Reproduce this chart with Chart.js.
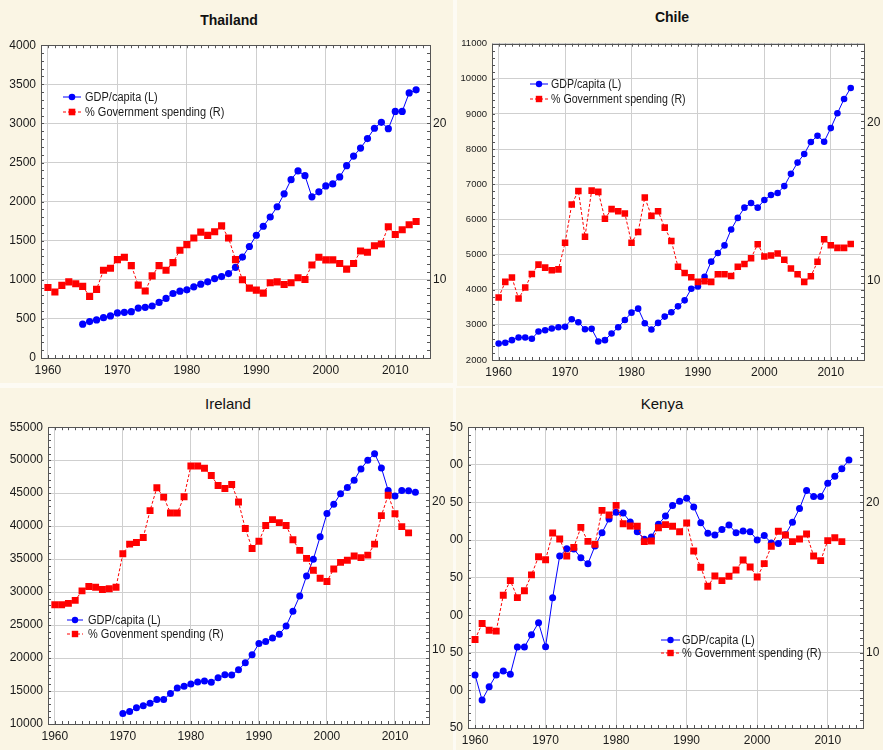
<!DOCTYPE html>
<html>
<head>
<meta charset="utf-8">
<script src="https://cdn.jsdelivr.net/npm/chart.js@4/dist/chart.umd.min.js"></script>
<style>
  body { margin: 0; width: 883px; height: 750px; background: #fdfbf4; position: relative; overflow: hidden;
         font-family: "Liberation Sans", Arial, sans-serif; }
  .panel { position: absolute; background: #faf5e4; }
  .title { position: absolute; color: #111; transform: translate(-50%, -50%); white-space: nowrap; }
  canvas { position: absolute; }
</style>
</head>
<body>
<div class="panel" style="left:0;top:0;width:453px;height:383px"></div>
<div class="panel" style="left:457px;top:0;width:426px;height:386px"></div>
<div class="panel" style="left:0;top:388px;width:453px;height:362px"></div>
<div class="panel" style="left:456px;top:388px;width:427px;height:362px"></div>

<div class="title" style="left:229px;top:20px;font-size:14px;font-weight:bold">Thailand</div>
<div class="title" style="left:672px;top:17px;font-size:14px;font-weight:bold">Chile</div>
<div class="title" style="left:228px;top:403px;font-size:15px">Ireland</div>
<div class="title" style="left:662px;top:403px;font-size:15px">Kenya</div>

<canvas id="thai" width="452" height="350" style="left:0;top:33px"></canvas>
<canvas id="chile" width="438" height="352" style="left:445px;top:33px"></canvas>
<canvas id="ireland" width="452" height="335" style="left:0;top:415px"></canvas>
<canvas id="kenya" width="438" height="335" style="left:445px;top:415px"></canvas>

<script>
// x axis and right axis ticks (shared)
const xTicks = [1960, 1970, 1980, 1990, 2000, 2010];
const rightTicks = [10, 20];

// Thailand: GDP from 1965, spending from 1960
const thaiGdp = [432, 466, 487, 516, 538, 576, 584, 593, 639, 648, 665, 711, 762, 825, 855, 872, 910, 944, 974, 1016,
  1041, 1079, 1160, 1291, 1426, 1570, 1685, 1803, 1934, 2099, 2281, 2392, 2332, 2061, 2125, 2201, 2226, 2315, 2459, 2582,
  2684, 2806, 2938, 3014, 2933, 3153, 3153, 3390, 3429];
const thaiGov = [9.51, 9.22, 9.64, 9.87, 9.75, 9.58, 8.94, 9.39, 10.61, 10.74, 11.29, 11.44, 10.91, 9.66, 9.28,
  10.25, 10.91, 10.61, 11.10, 11.89, 12.25, 12.67, 13.05, 12.84, 13.07, 13.45, 12.67, 11.29, 10.0, 9.47,
  9.34, 9.15, 9.81, 9.87, 9.70, 9.81, 10.13, 10.02, 10.95, 11.44, 11.27, 11.27, 11.04, 10.68, 11.04,
  11.84, 11.76, 12.18, 12.29, 13.39, 12.90, 13.20, 13.52, 13.73];
const thaiLeftTicks = [0, 500, 1000, 1500, 2000, 2500, 3000, 3500, 4000];

// Chile: both from 1960
const chileGdp = [2471, 2490, 2565, 2641, 2641, 2603, 2811, 2848, 2895, 2933, 2943, 3159, 3074, 2877, 2886,
  2528, 2565, 2754, 2933, 3140, 3348, 3461, 3046, 2867, 3056, 3235, 3357, 3527, 3697, 4026,
  4092, 4366, 4799, 5044, 5261, 5713, 6043, 6335, 6466, 6335, 6552, 6694, 6750, 6948, 7297,
  7617, 7862, 8202, 8381, 8211, 8598, 9022, 9427, 9738];
const chileGov = [8.95, 9.94, 10.21, 8.89, 9.58, 10.44, 11.03, 10.84, 10.67, 10.73, 12.41, 14.83, 15.69, 12.80, 15.71,
  15.63, 13.93, 14.54, 14.41, 14.27, 12.41, 13.10, 15.27, 14.12, 14.41, 13.37, 12.53, 10.90, 10.50, 10.23,
  9.94, 9.98, 9.94, 10.42, 10.42, 10.31, 10.90, 11.07, 11.44, 12.32, 11.55, 11.61, 11.74, 11.34, 10.79,
  10.42, 9.94, 10.29, 11.21, 12.64, 12.26, 12.09, 12.09, 12.34];
const chileLeftTicks = [2000, 3000, 4000, 5000, 6000, 7000, 8000, 9000, 10000, 11000];

// Ireland: GDP from 1970, spending from 1960
const irelandGdp = [11605, 11906, 12458, 12759, 13161, 13713, 13713, 14616, 15469, 15719, 16071, 16372, 16522, 16321, 17024,
  17475, 17425, 18228, 19281, 20486, 22191, 22492, 23044, 23596, 24850, 27108, 29416, 32426, 34985, 38396,
  41908, 43313, 44918, 45872, 46975, 48681, 49986, 50989, 48832, 45420, 44567, 45420, 45370, 45119];
const irelandGov = [13.04, 13.04, 13.13, 13.33, 13.97, 14.26, 14.22, 14.06, 14.11, 14.22, 16.47, 17.12, 17.23, 17.57, 19.38,
  20.92, 20.29, 19.22, 19.22, 20.31, 22.39, 22.39, 22.23, 21.74, 21.07, 20.87, 21.14, 19.96, 18.17, 16.83,
  17.32, 18.37, 18.77, 18.57, 18.37, 17.41, 16.70, 16.16, 15.36, 14.82, 14.60, 15.45, 15.89, 16.03, 16.32,
  16.21, 16.38, 17.12, 19.04, 20.42, 19.17, 18.30, 17.88];
const irelandLeftTicks = [10000, 15000, 20000, 25000, 30000, 35000, 40000, 45000, 50000, 55000];

// Kenya: GDP from 1960, spending from 1960
const kenyaGdp = [420.6, 387.1, 404.7, 420.6, 425.9, 421.5, 457.7, 457.7, 474.1, 490.0, 458.2, 523.1, 578.7, 588.4, 588,
  576.5, 568.5, 592, 609.6, 627.8, 637, 636, 624, 611, 601, 604, 621, 632, 646, 651.5,
  655.5, 644, 623, 609, 606.5, 614, 620, 609.6, 612, 611, 600, 606, 596, 595.5, 607,
  623.7, 641.8, 665.7, 658, 658, 675.4, 684.7, 694.8, 706.3];
const kenyaGov = [10.88, 11.95, 11.50, 11.44, 13.83, 14.80, 13.67, 14.12, 15.18, 16.39, 16.19, 17.96, 17.57, 16.44, 17.01,
  18.34, 17.41, 17.21, 19.47, 19.16, 19.80, 18.58, 18.43, 18.41, 17.39, 17.43, 18.32, 18.52, 18.41, 18.05,
  18.63, 16.77, 15.69, 14.42, 15.11, 14.80, 15.09, 15.51, 16.17, 15.71, 15.04, 15.93, 17.08, 18.08, 17.83,
  17.39, 17.57, 17.90, 16.44, 16.13, 17.46, 17.65, 17.39];
const kenyaLeftTicks = [350, 400, 450, 500, 550, 600, 650, 700, 750];

const legendLabels = ['GDP/capita (L)', '% Government spending (R)'];
const irelandLegendLabels = ['GDP/capita (L)', '% Govenment spending (R)'];

const FONT = '"Liberation Sans", Arial, sans-serif';
const toPoints = (start, vals) => vals.map((v, i) => ({ x: start + i, y: v }));

const framePlugin = {
  id: 'frame',
  beforeDraw(chart) {
    const a = chart.chartArea, ctx = chart.ctx;
    ctx.save();
    ctx.fillStyle = '#ffffff';
    ctx.fillRect(a.left, a.top, a.width, a.height);
    ctx.restore();
  },
  beforeDatasetsDraw(chart, args, opts) {
    const a = chart.chartArea, ctx = chart.ctx, xs = chart.scales.x, ys = chart.scales.y;
    ctx.save();
    ctx.strokeStyle = '#555';
    ctx.lineWidth = 1;
    ctx.beginPath();
    for (let yr = Math.ceil(xs.min); yr <= xs.max; yr++) {
      const px = Math.round(xs.getPixelForValue(yr)) + 0.5;
      ctx.moveTo(px, a.bottom); ctx.lineTo(px, a.bottom - 3);
      ctx.moveTo(px, a.top); ctx.lineTo(px, a.top + 3);
    }
    for (let v = ys.min; v <= ys.max + 1e-9; v += opts.minorY) {
      const py = Math.round(ys.getPixelForValue(v)) + 0.5;
      ctx.moveTo(a.left, py); ctx.lineTo(a.left + 3, py);
      ctx.moveTo(a.right, py); ctx.lineTo(a.right - 3, py);
    }
    ctx.stroke();
    ctx.strokeRect(Math.round(a.left) + 0.5, Math.round(a.top) + 0.5, Math.round(a.width), Math.round(a.height));
    ctx.restore();
  },
  afterDraw(chart, args, opts) {
    const lg = opts.legend, ctx = chart.ctx;
    const mid = (lg.x0 + lg.x1) / 2;
    ctx.save();
    // GDP row
    ctx.strokeStyle = '#0000ff'; ctx.fillStyle = '#0000ff'; ctx.lineWidth = 1;
    ctx.beginPath(); ctx.moveTo(lg.x0, lg.y1); ctx.lineTo(lg.x1, lg.y1); ctx.stroke();
    ctx.beginPath(); ctx.arc(mid, lg.y1, lg.r, 0, Math.PI * 2); ctx.fill();
    // spending row
    ctx.strokeStyle = '#ff0000'; ctx.fillStyle = '#ff0000';
    ctx.setLineDash([3, 2]);
    ctx.beginPath(); ctx.moveTo(lg.x0, lg.y2); ctx.lineTo(lg.x1, lg.y2); ctx.stroke();
    ctx.setLineDash([]);
    ctx.fillRect(mid - lg.r, lg.y2 - lg.r, lg.r * 2, lg.r * 2);
    // texts, slightly condensed like the original
    ctx.fillStyle = '#1a1a1a';
    ctx.font = lg.size + 'px ' + FONT;
    ctx.textBaseline = 'middle';
    [lg.y1, lg.y2].forEach((y, i) => {
      ctx.save();
      ctx.translate(lg.tx, y + 0.5);
      ctx.scale(lg.squeeze, 1);
      ctx.fillText(lg.labels[i], 0, 0);
      ctx.restore();
    });
    ctx.restore();
  }
};

function makeChart(id, c) {
  const cv = document.getElementById(id);
  const left = cv.offsetLeft, top = cv.offsetTop;
  new Chart(cv, {
    type: 'line',
    data: {
      datasets: [
        {
          label: c.labels[0], data: toPoints(c.gdpStart, c.gdp), yAxisID: 'y', order: 1,
          borderColor: '#0000ff', backgroundColor: '#0000ff', borderWidth: 1,
          pointStyle: 'circle', pointRadius: c.r, pointBorderWidth: 0, tension: 0
        },
        {
          label: c.labels[1], data: toPoints(c.govStart, c.gov), yAxisID: 'y1', order: 0,
          borderColor: '#ff0000', backgroundColor: '#ff0000', borderWidth: 1, borderDash: [3, 2],
          pointStyle: 'rect', pointRadius: c.r * 1.4, pointBorderWidth: 0, tension: 0
        }
      ]
    },
    options: {
      responsive: false,
      animation: false,
      devicePixelRatio: 1,
      layout: { padding: { top: c.padTop, left: 0, right: 0, bottom: 0 } },
      plugins: {
        legend: { display: false },
        tooltip: { enabled: false },
        frame: {
          minorY: c.minorY,
          legend: {
            x0: c.lg.x0 - left, x1: c.lg.x1 - left, tx: c.lg.tx - left,
            y1: c.lg.y1 - top, y2: c.lg.y2 - top, r: c.lg.r, size: c.lg.size,
            squeeze: c.lg.squeeze, labels: c.labels
          }
        }
      },
      scales: {
        x: {
          type: 'linear', min: 1959, max: 2015,
          afterBuildTicks: s => { s.ticks = xTicks.map(v => ({ value: v })); },
          afterFit: s => { s.height = c.xH; },
          grid: { color: '#cfcfcf', drawTicks: false },
          border: { display: false },
          ticks: { font: { family: FONT, size: 12 }, color: '#1a1a1a', padding: 5, maxRotation: 0,
                   autoSkip: false, callback: v => String(v) }
        },
        y: {
          position: 'left', min: c.leftTicks[0], max: c.leftTicks[c.leftTicks.length - 1],
          afterBuildTicks: s => { s.ticks = c.leftTicks.map(v => ({ value: v })); },
          afterFit: s => { s.width = c.leftW; },
          grid: { color: '#cfcfcf', drawTicks: false },
          border: { display: false },
          ticks: { font: { family: FONT, size: c.leftFont }, color: '#1a1a1a', padding: 5,
                   callback: c.leftLabel || (v => String(v)) }
        },
        y1: {
          position: 'right', min: 5, max: 25,
          afterBuildTicks: s => { s.ticks = rightTicks.map(v => ({ value: v })); },
          afterFit: s => { s.width = c.rightW; },
          grid: { drawOnChartArea: false, drawTicks: false },
          border: { display: false },
          ticks: { font: { family: FONT, size: 12 }, color: '#1a1a1a', padding: 3, callback: v => String(v) }
        }
      }
    },
    plugins: [framePlugin]
  });
}

makeChart('thai', {
  gdp: thaiGdp, gdpStart: 1965, gov: thaiGov, govStart: 1960, leftTicks: thaiLeftTicks, minorY: 100,
  leftW: 41, rightW: 22, padTop: 10, xH: 25, leftFont: 12, r: 3.6, labels: legendLabels,
  lg: { x0: 63, x1: 81, tx: 85, y1: 97, y2: 112, r: 3.3, size: 12.5, squeeze: 0.88 }
});
makeChart('chile', {
  gdp: chileGdp, gdpStart: 1960, gov: chileGov, govStart: 1960, leftTicks: chileLeftTicks, minorY: 200,
  leftW: 47, rightW: 19, padTop: 9, xH: 25, leftFont: 9.5, r: 3.3, labels: legendLabels,
  lg: { x0: 530, x1: 548, tx: 551, y1: 84, y2: 99, r: 3.2, size: 12.5, squeeze: 0.85 }
});
makeChart('ireland', {
  gdp: irelandGdp, gdpStart: 1970, gov: irelandGov, govStart: 1960, leftTicks: irelandLeftTicks, minorY: 1000,
  leftW: 48, rightW: 23, padTop: 10, xH: 26, leftFont: 12, r: 3.5, labels: irelandLegendLabels,
  lg: { x0: 67, x1: 83, tx: 88, y1: 620, y2: 634, r: 3.2, size: 12.5, squeeze: 0.88 }
});
makeChart('kenya', {
  gdp: kenyaGdp, gdpStart: 1960, gov: kenyaGov, govStart: 1960, leftTicks: kenyaLeftTicks, minorY: 10,
  leftW: 23, rightW: 20, padTop: 11, xH: 22, leftFont: 12, r: 3.5, labels: legendLabels,
  leftLabel: v => String(v).slice(-2),
  lg: { x0: 661, x1: 680, tx: 682, y1: 640, y2: 653, r: 3.2, size: 12.5, squeeze: 0.88 }
});
</script>
</body>
</html>
